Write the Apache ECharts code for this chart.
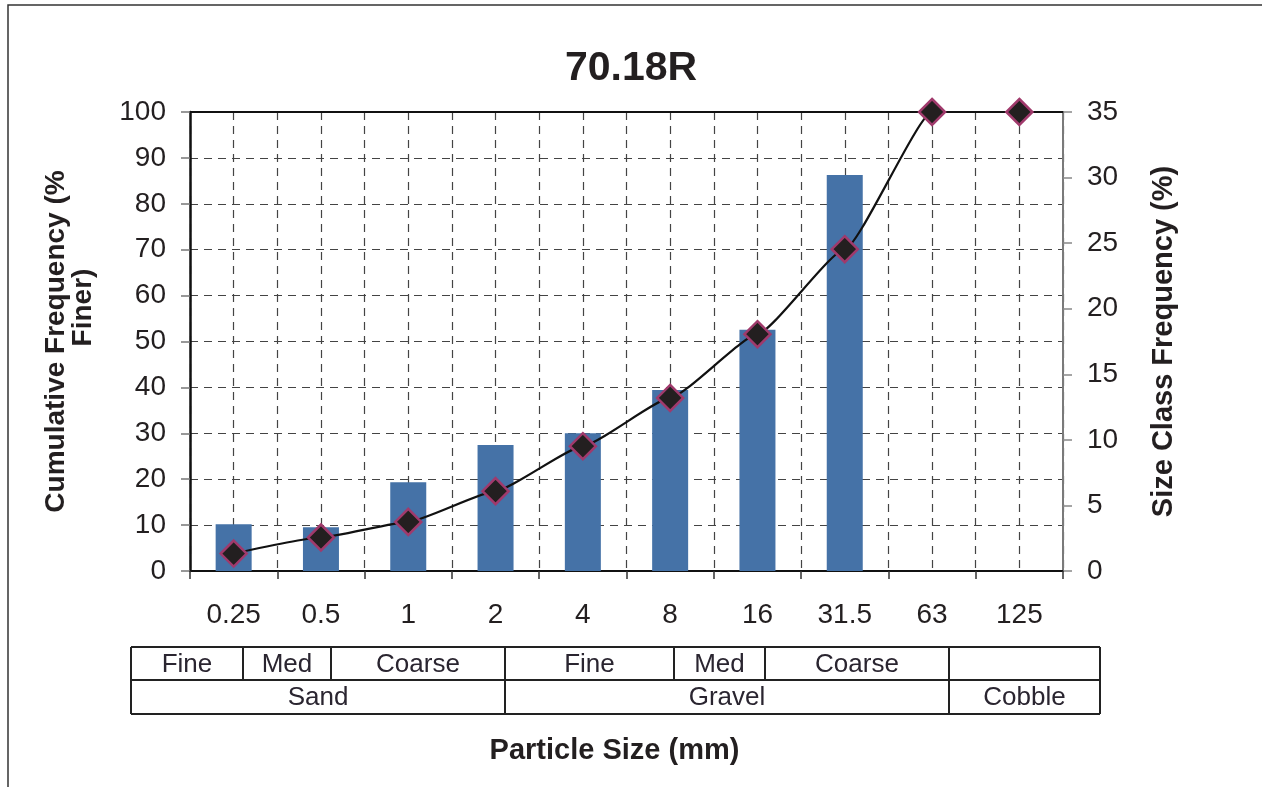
<!DOCTYPE html>
<html>
<head>
<meta charset="utf-8">
<script src="https://cdn.jsdelivr.net/npm/echarts@6/dist/echarts.min.js"></script>
<style>
html,body{margin:0;padding:0;background:#fff;}
#c{width:1262px;height:787px;}
</style>
</head>
<body>
<div id="c"></div>
<script>
// ---- data ----
var categories = ['0.25','0.5','1','2','4','8','16','31.5','63','125'];
var sizeClassFreq = [3.56, 3.34, 6.77, 9.6, 10.5, 13.8, 18.4, 30.2, null, null];   // right axis (%)
var cumulativeFiner = [3.8, 7.3, 10.7, 17.4, 27.2, 37.7, 51.6, 70.1, 100, 100];    // left axis (%)
var leftTicks = {min:0, max:100, interval:10};
var rightTicks = {min:0, max:35, interval:5};
var classRow1 = ['Fine','Med','Coarse','Fine','Med','Coarse',''];
var classRow2 = ['Sand','Gravel','Cobble'];

// ---- table layout (pixels) ----
var tblTop = 647, tblMid = 680, tblBot = 714;
var row1Edges = [131, 243, 331, 505, 674, 765, 949, 1100];
var row2Edges = [131, 505, 949, 1100];

var TXT = '#231f20';
var FONT = '"Liberation Sans", Arial, sans-serif';

var chart = echarts.init(document.getElementById('c'), null, {renderer:'canvas'});

var graphics = [];
// outer border
graphics.push({type:'rect', shape:{x:8, y:5, width:1300, height:820}, style:{fill:'none', stroke:'#333', lineWidth:1.5}, silent:true});
// table lines
function hline(y, x1, x2){ graphics.push({type:'line', shape:{x1:x1,y1:y,x2:x2,y2:y}, style:{stroke:'#222', lineWidth:2}, silent:true}); }
function vline(x, y1, y2){ graphics.push({type:'line', shape:{x1:x,y1:y1,x2:x,y2:y2}, style:{stroke:'#222', lineWidth:2}, silent:true}); }
hline(tblTop, row1Edges[0], row1Edges[row1Edges.length-1]);
hline(tblMid, row1Edges[0], row1Edges[row1Edges.length-1]);
hline(tblBot, row1Edges[0], row1Edges[row1Edges.length-1]);
row1Edges.forEach(function(x){ vline(x, tblTop, tblMid); });
row2Edges.forEach(function(x){ vline(x, tblMid, tblBot); });
function cellText(txt, x1, x2, yc){
  graphics.push({type:'text', x:(x1+x2)/2, y:yc, style:{text:txt, fill:'#2a2530', font:'26px '+FONT, textAlign:'center', textVerticalAlign:'middle'}, silent:true});
}
classRow1.forEach(function(t,i){ if(t) cellText(t, row1Edges[i], row1Edges[i+1], (tblTop+tblMid)/2+1); });
classRow2.forEach(function(t,i){ cellText(t, row2Edges[i], row2Edges[i+1], (tblMid+tblBot)/2+1); });

var option = {
  backgroundColor:'#fff',
  animation:false,
  title:{
    text:'70.18R', left:'center', top:43,
    textStyle:{fontFamily:FONT, fontWeight:'bold', fontSize:41, color:TXT}
  },
  grid:{left:190, right:199, top:112, bottom:216, containLabel:false},
  xAxis:[
    {
      type:'category', data:categories, boundaryGap:true, position:'bottom',
      name:'Particle Size (mm)', nameLocation:'middle', nameGap:165,
      nameTextStyle:{fontFamily:FONT, fontWeight:'bold', fontSize:29, color:TXT, padding:[0,24,0,0]},
      axisLine:{show:true, lineStyle:{color:'#111', width:2}},
      axisTick:{show:true, alignWithLabel:false, length:8, inside:false, lineStyle:{color:'#333', width:1.5}},
      axisLabel:{margin:30, fontFamily:FONT, fontSize:28, color:TXT},
      splitLine:{show:false}
    },
    {
      type:'value', min:0, max:20, interval:1, position:'top',
      axisLine:{show:true, onZero:false, lineStyle:{color:'#111', width:2}},
      axisTick:{show:false}, axisLabel:{show:false},
      splitLine:{show:true, lineStyle:{color:'#444', width:1.2, type:[8,6]}}
    }
  ],
  yAxis:[
    {
      type:'value', min:leftTicks.min, max:leftTicks.max, interval:leftTicks.interval, position:'left',
      name:'{a|Cumulative Frequency (%}\n{b|Finer)}', nameLocation:'middle', nameRotate:90, nameGap:93,
      nameTextStyle:{
        fontFamily:FONT, fontWeight:'bold', fontSize:28, color:TXT, lineHeight:27,
        rich:{
          a:{fontFamily:FONT, fontWeight:'bold', fontSize:28, color:TXT, lineHeight:27},
          b:{fontFamily:FONT, fontWeight:'bold', fontSize:28, color:TXT, lineHeight:27, padding:[0,0,0,68]}
        }
      },
      axisLine:{show:true, lineStyle:{color:'#111', width:2.5}},
      axisTick:{show:true, length:9, lineStyle:{color:'#777', width:1.5}},
      axisLabel:{margin:24, fontFamily:FONT, fontSize:28, color:TXT},
      splitLine:{show:true, lineStyle:{color:'#444', width:1.2, type:[8,6]}}
    },
    {
      type:'value', min:rightTicks.min, max:rightTicks.max, interval:rightTicks.interval, position:'right',
      name:'Size Class Frequency (%)', nameLocation:'middle', nameRotate:90, nameGap:86,
      nameTextStyle:{fontFamily:FONT, fontWeight:'bold', fontSize:29, color:TXT},
      axisLine:{show:true, lineStyle:{color:'#7a7a7a', width:2}},
      axisTick:{show:true, length:9, lineStyle:{color:'#888', width:1.5}},
      axisLabel:{margin:24, fontFamily:FONT, fontSize:28, color:TXT},
      splitLine:{show:false}
    }
  ],
  series:[
    {
      name:'Size Class Frequency', type:'bar', xAxisIndex:0, yAxisIndex:1,
      data:sizeClassFreq, barWidth:36,
      itemStyle:{color:'#4572a7'}, z:2
    },
    {
      name:'Cumulative Frequency', type:'line', xAxisIndex:0, yAxisIndex:0,
      data:cumulativeFiner, smooth:0.15, smoothMonotone:'x',
      lineStyle:{color:'#111', width:2.2},
      symbol:'diamond', symbolSize:[26,26],
      itemStyle:{color:'#231f20', borderColor:'#a03a6c', borderWidth:2.5},
      z:5
    }
  ],
  graphic:graphics
};
chart.setOption(option);
</script>
</body>
</html>
